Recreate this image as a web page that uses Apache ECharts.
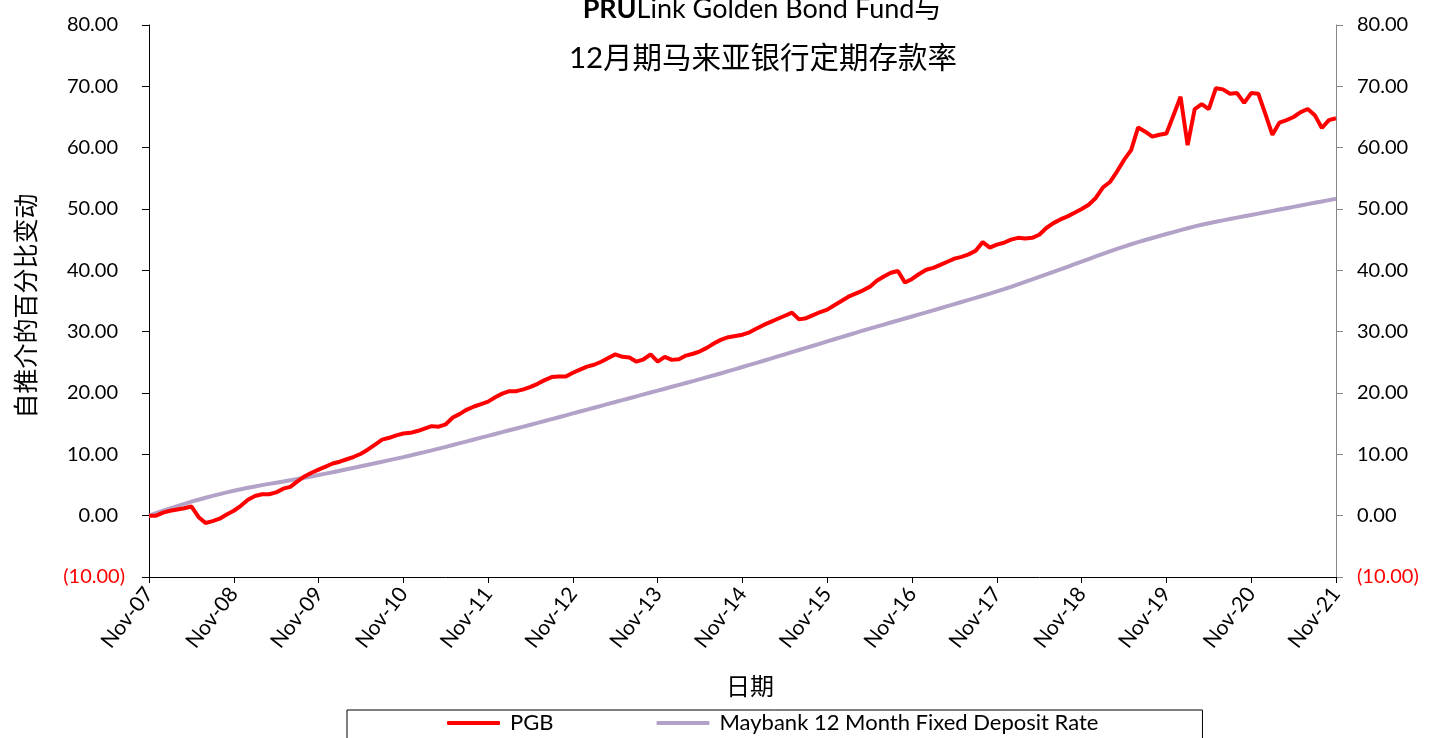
<!DOCTYPE html>
<html>
<head>
<meta charset="utf-8">
<script src="https://cdn.jsdelivr.net/npm/echarts@6/dist/echarts.min.js"></script>
<style>
html,body{margin:0;padding:0;background:#fff;}
#chart{width:1431px;height:738px;}
</style>
</head>
<body>
<div id="chart"></div>
<script>
// Month labels Nov-07 .. Nov-21
const monthNames = ['Jan','Feb','Mar','Apr','May','Jun','Jul','Aug','Sep','Oct','Nov','Dec'];
const categories = [];
for (let k = 0; k <= 168; k++) {
  const m = (10 + k) % 12;
  const y = 2007 + Math.floor((10 + k) / 12);
  categories.push(monthNames[m] + '-' + String(y).slice(2));
}

const seriesNames = ['PGB', 'Maybank 12 Month Fixed Deposit Rate'];

const pgb = [
  0.0, 0.0, 0.5, 0.8, 1.0, 1.2, 1.5, -0.2, -1.2, -0.9, -0.5, 0.2,
  0.8, 1.6, 2.6, 3.2, 3.5, 3.5, 3.8, 4.4, 4.7, 5.6, 6.4, 7.0,
  7.5, 8.0, 8.5, 8.8, 9.2, 9.6, 10.1, 10.8, 11.6, 12.4, 12.7, 13.1,
  13.4, 13.5, 13.8, 14.2, 14.6, 14.5, 14.9, 16.0, 16.6, 17.3, 17.8, 18.2,
  18.6, 19.3, 19.9, 20.3, 20.3, 20.6, 21.0, 21.5, 22.1, 22.6, 22.7, 22.7,
  23.3, 23.8, 24.3, 24.6, 25.1, 25.7, 26.3, 25.9, 25.8, 25.1, 25.5, 26.3,
  25.1, 25.9, 25.4, 25.5, 26.1, 26.4, 26.8, 27.4, 28.1, 28.7, 29.1, 29.3,
  29.5, 29.9, 30.5, 31.1, 31.6, 32.1, 32.6, 33.1, 32.0, 32.2, 32.7, 33.2,
  33.6, 34.3, 35.0, 35.7, 36.2, 36.7, 37.3, 38.3, 39.0, 39.6, 39.9, 38.0,
  38.6, 39.4, 40.1, 40.4, 40.9, 41.4, 41.9, 42.2, 42.6, 43.2, 44.6, 43.7,
  44.2, 44.5, 45.0, 45.3, 45.2, 45.3, 45.8, 46.9, 47.7, 48.3, 48.8, 49.4,
  50.0, 50.7, 51.8, 53.5, 54.4, 56.1, 58.0, 59.6, 63.3, 62.6, 61.8, 62.1,
  62.3, 65.3, 68.3, 60.4, 66.3, 67.1, 66.3, 69.7, 69.5, 68.8, 68.9, 67.3,
  68.9, 68.8, 65.5, 62.1, 64.1, 64.5, 65.0, 65.8, 66.3, 65.3, 63.2, 64.5,
  64.8
];

const maybank = [
  0.00, 0.40, 0.80, 1.18, 1.55, 1.92, 2.28, 2.60, 2.92, 3.22, 3.52, 3.80,
  4.07, 4.32, 4.55, 4.77, 4.98, 5.18, 5.38, 5.58, 5.78, 5.98, 6.18, 6.40,
  6.62, 6.85, 7.08, 7.32, 7.56, 7.80, 8.05, 8.30, 8.55, 8.80, 9.05, 9.30,
  9.55, 9.82, 10.09, 10.36, 10.64, 10.93, 11.22, 11.52, 11.82, 12.12, 12.42, 12.72,
  13.02, 13.32, 13.62, 13.92, 14.22, 14.52, 14.82, 15.12, 15.43, 15.74, 16.05, 16.36,
  16.67, 16.98, 17.29, 17.60, 17.91, 18.22, 18.53, 18.84, 19.15, 19.46, 19.77, 20.08,
  20.39, 20.70, 21.01, 21.32, 21.63, 21.94, 22.26, 22.58, 22.90, 23.22, 23.56, 23.90,
  24.24, 24.58, 24.92, 25.26, 25.61, 25.96, 26.31, 26.66, 27.01, 27.36, 27.71, 28.06,
  28.41, 28.76, 29.11, 29.46, 29.81, 30.16, 30.50, 30.83, 31.16, 31.49, 31.82, 32.15,
  32.48, 32.81, 33.14, 33.48, 33.82, 34.16, 34.50, 34.84, 35.18, 35.52, 35.86, 36.20,
  36.56, 36.93, 37.32, 37.72, 38.12, 38.52, 38.93, 39.34, 39.75, 40.16, 40.58, 41.00,
  41.42, 41.84, 42.26, 42.68, 43.10, 43.50, 43.88, 44.25, 44.60, 44.94, 45.27, 45.60,
  45.92, 46.24, 46.56, 46.87, 47.16, 47.43, 47.68, 47.92, 48.15, 48.37, 48.59, 48.81,
  49.03, 49.25, 49.47, 49.69, 49.91, 50.13, 50.35, 50.57, 50.79, 51.01, 51.23, 51.45,
  51.67
];

const yTicks = { min: -10, max: 80, interval: 10 };
const titleLine1Bold = 'PRU';
const titleLine1Rest = 'Link Golden Bond Fund与';
const titleLine2 = '12月期马来亚银行定期存款率';
const yAxisTitle = '自推介的百分比变动';
const xAxisTitle = '日期';

const FONT = "Lato, 'Noto Sans CJK SC', sans-serif";

function yFmt(withPad) {
  return function (v) {
    if (v < 0) return '{n|(' + Math.abs(v).toFixed(2) + ')}';
    return (withPad ? '{p|' : '{q|') + v.toFixed(2) + '}';
  };
}
const yRich = {
  n: { color: '#FF0000', fontSize: 20, fontFamily: FONT },
  p: { color: '#000000', fontSize: 20, fontFamily: FONT, padding: [0, 7, 0, 0] },
  q: { color: '#000000', fontSize: 20, fontFamily: FONT }
};

const chart = echarts.init(document.getElementById('chart'), null, { renderer: 'canvas' });
chart.setOption({
  animation: false,
  backgroundColor: '#ffffff',
  textStyle: { fontFamily: FONT },
  grid: { left: 149, right: 95, top: 25, bottom: 161, containLabel: false },
  graphic: [
    {
      type: 'text', x: 762, y: 9,
      style: {
        text: '{b|' + titleLine1Bold + '}{r|' + titleLine1Rest + '}',
        align: 'center', verticalAlign: 'middle',
        rich: {
          b: { fontWeight: 'bold', fontSize: 27, fontFamily: FONT, fill: '#000' },
          r: { fontSize: 27, fontFamily: FONT, fill: '#000' }
        }
      }
    },
    {
      type: 'text', x: 763, y: 58,
      style: { text: titleLine2, font: "29.5px Lato, 'Noto Sans CJK SC'", fill: '#000', align: 'center', verticalAlign: 'middle' }
    },
    {
      type: 'text', x: 25, y: 306, rotation: Math.PI / 2,
      style: { text: yAxisTitle, font: "25px 'Noto Sans CJK SC'", fill: '#000', align: 'center', verticalAlign: 'middle' }
    },
    {
      type: 'text', x: 750, y: 686,
      style: { text: xAxisTitle, font: "24px 'Noto Sans CJK SC'", fill: '#000', align: 'center', verticalAlign: 'middle' }
    }
  ],
  legend: {
    left: 347, top: 710,
    padding: [2, 104, 20, 100],
    borderColor: '#000', borderWidth: 1,
    icon: 'roundRect',
    itemWidth: 53, itemHeight: 4, itemGap: 103,
    textStyle: { fontSize: 22, fontFamily: FONT, color: '#000', padding: [0, 0, 0, 5] },
    data: seriesNames
  },
  xAxis: {
    type: 'category',
    data: categories,
    boundaryGap: false,
    axisLine: { show: true, onZero: false, lineStyle: { color: '#000', width: 1 } },
    axisTick: { show: true, interval: 11, length: 6, lineStyle: { color: '#000' } },
    axisLabel: { interval: 11, rotate: 52, fontSize: 21, fontFamily: FONT, color: '#000', margin: 13 },
    splitLine: { show: false }
  },
  yAxis: [
    {
      type: 'value', position: 'left',
      min: yTicks.min, max: yTicks.max, interval: yTicks.interval,
      axisLine: { show: true, lineStyle: { color: '#000', width: 1 } },
      axisTick: { show: true, length: 7, lineStyle: { color: '#000' } },
      axisLabel: { formatter: yFmt(true), rich: yRich, margin: 24 },
      splitLine: { show: false }
    },
    {
      type: 'value', position: 'right',
      min: yTicks.min, max: yTicks.max, interval: yTicks.interval,
      axisLine: { show: true, lineStyle: { color: '#868686', width: 1 } },
      axisTick: { show: true, length: 7, lineStyle: { color: '#868686' } },
      axisLabel: { formatter: yFmt(false), rich: yRich, margin: 21 },
      splitLine: { show: false }
    }
  ],
  series: [
    {
      name: seriesNames[0], type: 'line', data: pgb, yAxisIndex: 0,
      symbol: 'none', smooth: false,
      lineStyle: { color: '#FF0000', width: 4 }, itemStyle: { color: '#FF0000' }, z: 3
    },
    {
      name: seriesNames[1], type: 'line', data: maybank, yAxisIndex: 0,
      symbol: 'none', smooth: false,
      lineStyle: { color: '#B3A2C7', width: 4 }, itemStyle: { color: '#B3A2C7' }, z: 2
    }
  ]
});
</script>
</body>
</html>
